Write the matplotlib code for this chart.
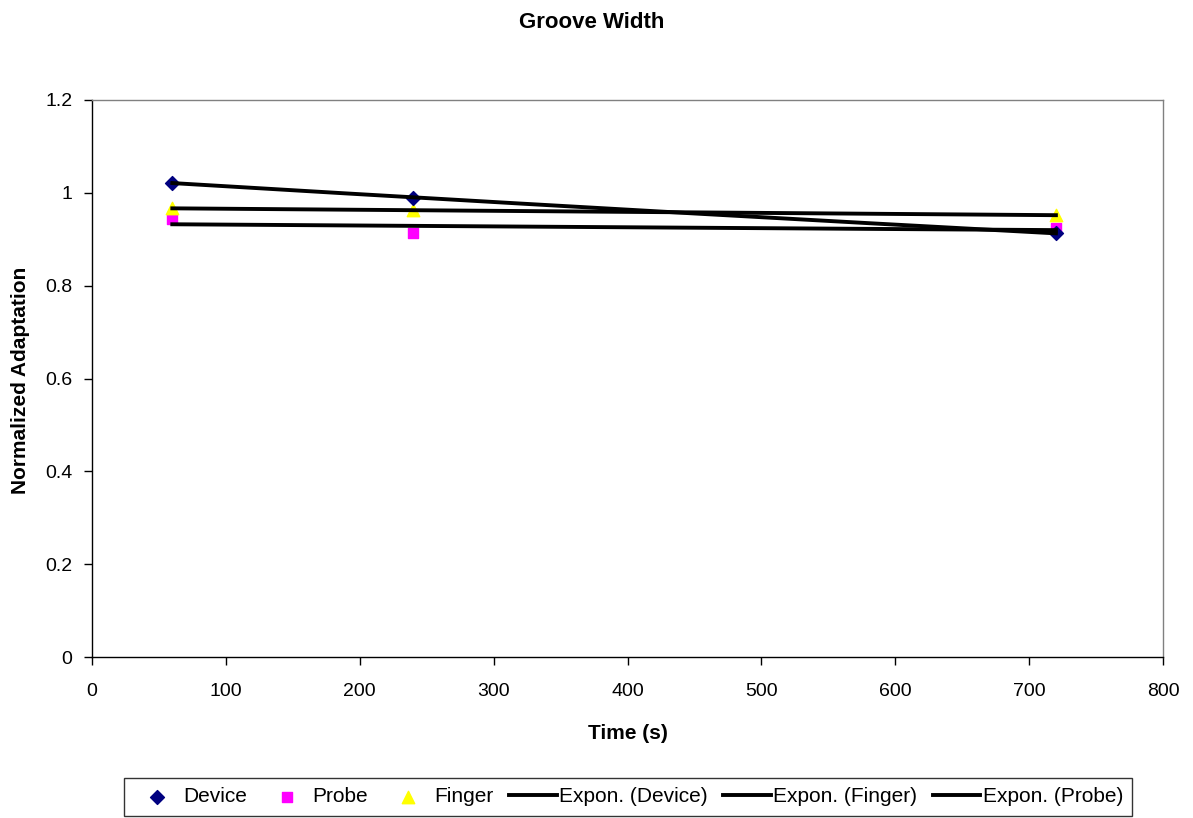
import numpy as np
import matplotlib
matplotlib.use("Agg")
import matplotlib.pyplot as plt

plt.rcParams['font.family'] = ['Liberation Sans', 'DejaVu Sans']

time = [60, 240, 720]
device = [1.022, 0.989, 0.913]
probe = [0.944, 0.913, 0.924]
finger = [0.967, 0.962, 0.952]

fig = plt.figure(figsize=(11.93, 8.18), dpi=100)
ax = fig.add_axes([92/1193, 1-657/818, (1163-92)/1193, (657-100)/818])

def expfit(x, y):
    x = np.array(x, float)
    b, a = np.polyfit(x, np.log(y), 1)
    xs = np.linspace(x.min(), x.max(), 200)
    return xs, np.exp(a + b*xs)

h_dev = ax.scatter(time, device, marker='D', s=50, color='#000080', zorder=3, label='Device')
h_pro = ax.scatter(time, probe, marker='s', s=60, color='#FF00FF', zorder=2, label='Probe')
h_fin = ax.scatter(time, finger, marker='^', s=80, color='#FFFF00', zorder=2, label='Finger')

xs, ys = expfit(time, device)
l_dev, = ax.plot(xs, ys, color='black', lw=2.8, zorder=4, label='Expon. (Device)')
xs, ys = expfit(time, finger)
l_fin, = ax.plot(xs, ys, color='black', lw=2.8, zorder=4, label='Expon. (Finger)')
xs, ys = expfit(time, probe)
l_pro, = ax.plot(xs, ys, color='black', lw=2.8, zorder=4, label='Expon. (Probe)')

ax.set_xlim(0, 800)
ax.set_ylim(0, 1.2)
ax.set_xticks(np.arange(0, 801, 100))
ax.set_yticks(np.arange(0, 1.21, 0.2))
ax.set_yticklabels(['0', '0.2', '0.4', '0.6', '0.8', '1', '1.2'])
for s in ax.spines.values():
    s.set_color('#808080')
    s.set_linewidth(1)
ax.spines['left'].set_color('black')
ax.spines['bottom'].set_color('black')
ax.tick_params(axis='both', labelsize=14, direction='out', length=6, width=1)
ax.tick_params(axis='x', pad=13)
ax.tick_params(axis='y', pad=8)

ax.set_xlabel('Time (s)', fontsize=15, fontweight='bold')
ax.xaxis.set_label_coords(628/1193, 1-724/818, transform=fig.transFigure)
ax.set_ylabel('Normalized Adaptation', fontsize=15, fontweight='bold')
ax.yaxis.set_label_coords(30/1193, 1-380/818, transform=fig.transFigure)
fig.text(592/1193, 1-23/818, 'Groove Width', ha='center', va='center', fontsize=16, fontweight='bold')

leg = fig.legend(handles=[h_dev, h_pro, h_fin, l_dev, l_fin, l_pro],
                 loc='center', bbox_to_anchor=(628/1193, 1-797/818), ncol=6,
                 frameon=True, fancybox=False, fontsize=15, handlelength=2.3,
                 handletextpad=0.1, columnspacing=0.75, borderpad=0.45,
                 borderaxespad=0)
leg.get_frame().set_edgecolor('black')
leg.get_frame().set_linewidth(1)

fig.savefig('out.png', dpi=100)
